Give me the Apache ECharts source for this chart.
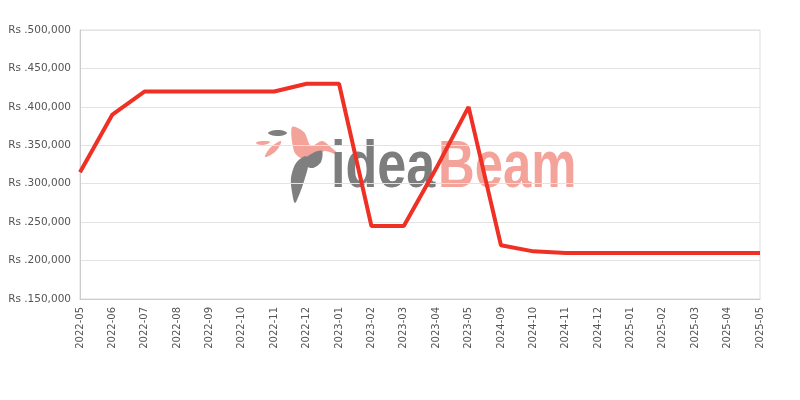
<!DOCTYPE html>
<html>
<head>
<meta charset="utf-8">
<script src="https://cdn.jsdelivr.net/npm/echarts@6/dist/echarts.min.js"></script>
<style>html,body{margin:0;padding:0;background:#fff}#c{width:800px;height:400px}</style>
</head>
<body>
<div id="c"></div>
<script>
var categories = ['2022-05','2022-06','2022-07','2022-08','2022-09','2022-10','2022-11','2022-12','2023-01','2023-02','2023-03','2023-04','2023-05','2024-09','2024-10','2024-11','2024-12','2025-01','2025-02','2025-03','2025-04','2025-05'];
var prices = [315000,390000,420000,420000,420000,420000,420000,430000,430000,245000,245000,320000,400000,220000,212000,210000,210000,210000,210000,210000,210000,210000];
var yMin = 150000, yMax = 500000, yStep = 50000;

function fmt(v){ return 'Rs .' + v.toLocaleString('en-US'); }

var pink = '#f4a39b', grey = '#7f7f7f';
var chart = echarts.init(document.getElementById('c'));
chart.setOption({
  animation: false,
  grid: {left: 80, right: 40, top: 30, bottom: 101, show: true, borderColor: '#dddddd', borderWidth: 1},
  graphic: [
    {type: 'polygon', z: 0, silent: true, shape: {points: [[256,143],[262,141],[270,142],[263,145]], smooth: 0.5}, style: {fill: pink}},
    {type: 'polygon', z: 0, silent: true, shape: {points: [[268,133],[278,130],[287,133],[278,136]], smooth: 0.5}, style: {fill: grey}},
    {type: 'polygon', z: 0, silent: true, shape: {points: [[265,157],[271,147],[281,141],[276,151]], smooth: 0.4}, style: {fill: pink}},
    {type: 'polygon', z: 0, silent: true, shape: {points: [[292,127],[304,132],[311,146],[322,141],[333,149],[340,156],[325,151],[315,156],[301,158],[294,151]], smooth: 0.3}, style: {fill: pink}},
    {type: 'polygon', z: 0, silent: true, shape: {points: [[306,156],[296,163],[291,178],[292,192],[295,203],[301,190],[305,178],[308,166]], smooth: 0.3}, style: {fill: grey}},
    {type: 'polygon', z: 0, silent: true, shape: {points: [[304,160],[313,153],[322,151],[321,162],[313,168],[306,166]], smooth: 0.3}, style: {fill: grey}},
    {type: 'text', z: 0, silent: true, x: 331, y: 136, scaleX: 0.79, style: {text: 'idea', font: 'bold 66px "Liberation Sans", sans-serif', fill: '#7d7d7d'}},
    {type: 'text', z: 0, silent: true, x: 438, y: 136, scaleX: 0.77, style: {text: 'Beam', font: 'bold 66px "Liberation Sans", sans-serif', fill: pink}}
  ],
  xAxis: {
    type: 'category',
    data: categories,
    boundaryGap: false,
    axisLine: {lineStyle: {color: '#cccccc'}},
    axisTick: {show: false},
    splitLine: {show: false},
    axisLabel: {rotate: 90, color: '#555', fontSize: 10, fontFamily: 'DejaVu Sans', margin: 8, interval: 0}
  },
  yAxis: {
    type: 'value',
    min: yMin, max: yMax, interval: yStep,
    axisLine: {show: true, lineStyle: {color: '#cccccc'}},
    axisTick: {show: false},
    splitLine: {lineStyle: {color: '#e3e3e3'}},
    axisLabel: {formatter: fmt, color: '#555', fontSize: 10.5, fontFamily: 'DejaVu Sans', margin: 9}
  },
  series: [{
    type: 'line',
    data: prices,
    symbol: 'none',
    z: 5,
    lineStyle: {color: '#ee3124', width: 4}
  }]
});
</script>
</body>
</html>
